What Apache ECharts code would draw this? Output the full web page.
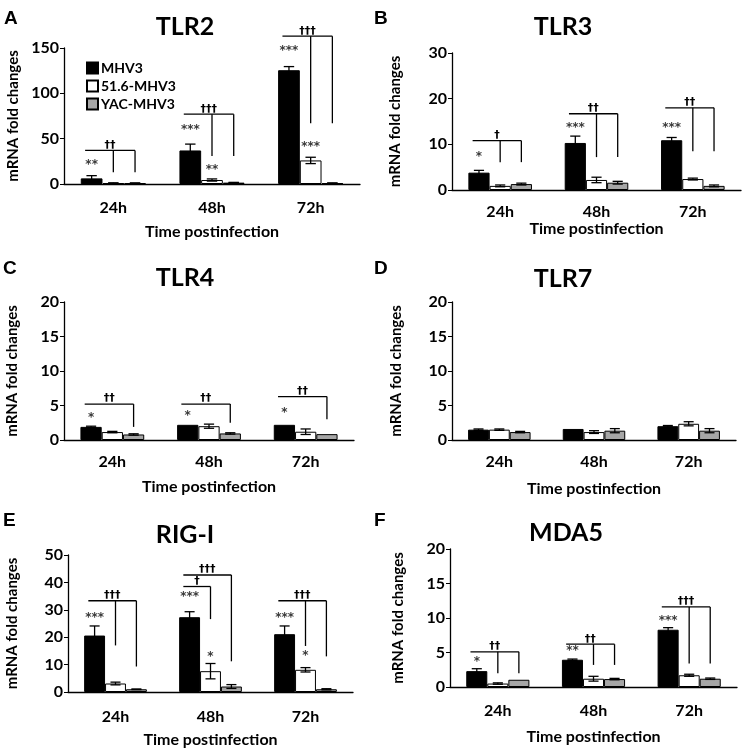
<!DOCTYPE html>
<html><head><meta charset="utf-8">
<script src="https://cdn.jsdelivr.net/npm/echarts@6/dist/echarts.min.js"></script>
<style>html,body{margin:0;padding:0;background:#fff}#c{width:742px;height:755px}</style>
</head><body><div id="c"></div>
<script>
// ---------- data ----------
const categories = ['24h', '48h', '72h'];
const seriesNames = ['MHV3', '51.6-MHV3', 'YAC-MHV3'];
const panelTitles = ['TLR2', 'TLR3', 'TLR4', 'TLR7', 'RIG-I', 'MDA5'];
const panelLetters = ['A', 'B', 'C', 'D', 'E', 'F'];
const yMax = [150, 30, 20, 20, 50, 20];
const yInterval = [50, 10, 5, 5, 10, 5];
const yAxisTitle = 'mRNA fold changes';
const xAxisTitle = 'Time postinfection';

// mean values: [series][category]
const tlr2Mean = [[6.2, 37, 125.5], [1, 4.4, 26], [1, 1.5, 1]];
const tlr2Err  = [[3, 7, 4], [0.3, 1.2, 3.5], [0.2, 0.3, 0.2]];
const tlr3Mean = [[3.8, 10.3, 10.9], [0.9, 2.2, 2.4], [1.3, 1.6, 0.9]];
const tlr3Err  = [[0.5, 1.5, 0.6], [0.2, 0.6, 0.2], [0.2, 0.3, 0.2]];
const tlr4Mean = [[1.9, 2.2, 2.2], [1.15, 2.0, 1.2], [0.8, 0.95, 0.85]];
const tlr4Err  = [[0.1, 0, 0], [0.1, 0.3, 0.4], [0.1, 0.1, 0]];
const tlr7Mean = [[1.5, 1.6, 2.0], [1.5, 1.15, 2.35], [1.15, 1.35, 1.35]];
const tlr7Err  = [[0.1, 0, 0.1], [0.1, 0.2, 0.3], [0.1, 0.3, 0.3]];
const rigMean  = [[20.6, 27.3, 21.1], [3.1, 7.6, 8.1], [1.0, 2.0, 1.0]];
const rigErr   = [[3.5, 2, 3], [0.5, 2.8, 0.8], [0.1, 0.7, 0.2]];
const mda5Mean = [[2.3, 3.95, 8.3], [0.5, 1.2, 1.7], [1.05, 1.15, 1.2]];
const mda5Err  = [[0.35, 0.1, 0.3], [0.1, 0.35, 0.15], [0, 0.1, 0.1]];

// significance stars: [category, series, value, text]
const tlr2Stars = [[0, 0, 24, '**'], [1, 0, 63, '***'], [1, 1, 19, '**'], [2, 0, 150, '***'], [2, 1, 44, '***']];
const tlr3Stars = [[0, 0, 8, '*'], [1, 0, 14.2, '***'], [2, 0, 14.2, '***']];
const tlr4Stars = [[0, 0, 3.6, '*'], [1, 0, 4, '*'], [2, 0, 4.3, '*']];
const tlr7Stars = [];
const rigStars  = [[0, 0, 28.2, '***'], [1, 0, 35.8, '***'], [1, 1, 14, '*'], [2, 0, 28.2, '***'], [2, 1, 14.3, '*']];
const mda5Stars = [[0, 0, 4.1, '*'], [1, 0, 5.6, '**'], [2, 0, 10, '***']];

// brackets: [category, top value, [[series, bottom value], ...], text]
const tlr2Brackets = [[0, 37, [[1, 13], [2, 13]], '††'], [1, 77, [[1, 31], [2, 31]], '†††'], [2, 163, [[1, 67], [2, 67]], '†††']];
const tlr3Brackets = [[0, 10.8, [[1, 6.1], [2, 6.1]], '†'], [1, 16.7, [[1, 7.2], [2, 7.2]], '††'], [2, 18, [[1, 8.5], [2, 8.5]], '††']];
const tlr4Brackets = [[0, 5.2, [[2, 1.9]], '††'], [1, 5.2, [[2, 2.5]], '††'], [2, 6.3, [[2, 3]], '††']];
const tlr7Brackets = [];
const rigBrackets  = [[0, 33.3, [[1, 17], [2, 9.3]], '†††'], [1, 42.7, [[2, 11.2]], '†††'], [1, 38.5, [[1, 26.6]], '†'], [2, 33.3, [[1, 16.8], [2, 13]], '†††']];
const mda5Brackets = [[0, 5.1, [[1, 2], [2, 2]], '††'], [1, 6.2, [[1, 3.2], [2, 3.2]], '††'], [2, 11.6, [[1, 3.4], [2, 3.4]], '†††']];

const panelMeans = [tlr2Mean, tlr3Mean, tlr4Mean, tlr7Mean, rigMean, mda5Mean];
const panelErrs = [tlr2Err, tlr3Err, tlr4Err, tlr7Err, rigErr, mda5Err];
const panelStars = [tlr2Stars, tlr3Stars, tlr4Stars, tlr7Stars, rigStars, mda5Stars];
const panelBrackets = [tlr2Brackets, tlr3Brackets, tlr4Brackets, tlr7Brackets, rigBrackets, mda5Brackets];

// ---------- layout / style ----------
const FONT = 'Lato, "Open Sans", "Liberation Sans", sans-serif';
const MARK_FONT = '"DejaVu Sans", sans-serif';
const BAR_FRAC = 0.22;
const barColors = ['#000000', '#ffffff', '#a6a6a6'];
const grids = [
  {left: 64, top: 48, width: 296, height: 136},
  {left: 452, top: 53, width: 289, height: 137},
  {left: 64, top: 302, width: 290, height: 138},
  {left: 452, top: 302, width: 284, height: 138},
  {left: 68, top: 555, width: 285, height: 137},
  {left: 450, top: 549, width: 287, height: 138}
];
const yNameGap = [43, 49, 44, 48, 48, 44];
const xNameGap = [40, 26, 39, 41, 40, 42];
const labelMargin = [16, 14, 14, 14, 17, 16];
const titlePos = [[185, 27], [563, 27], [185, 278], [563, 279], [185, 535], [566, 533]];
const letterPos = [[4, 19], [374, 19], [3, 269], [374, 269], [3, 521], [374, 521]];

function errRender(params, api) {
  const cat = api.value(0), v = api.value(1), e = api.value(2), s = api.value(3);
  if (!e) return null;
  const bw = api.size([1, 0])[0] * BAR_FRAC;
  const x = api.coord([cat, v])[0] + (s - 1) * bw;
  const yh = api.coord([cat, v + e])[1];
  const yl = api.coord([cat, Math.max(0, v - e)])[1];
  const cap = bw * 0.24;
  const st = {stroke: '#000', lineWidth: 1.3};
  return {type: 'group', children: [
    {type: 'line', shape: {x1: x, y1: yh, x2: x, y2: yl}, style: st},
    {type: 'line', shape: {x1: x - cap, y1: yh, x2: x + cap, y2: yh}, style: st},
    {type: 'line', shape: {x1: x - cap, y1: yl, x2: x + cap, y2: yl}, style: st}
  ]};
}
function bracketRender(list) {
  return function (params, api) {
    const b = list[params.dataIndex];
    const cat = b[0];
    const bw = api.size([1, 0])[0] * BAR_FRAC;
    const c = api.coord([cat, b[1]]);
    const yTop = c[1];
    const xStart = c[0] - bw * 1.3;
    let xEnd = xStart;
    const st = {stroke: '#000', lineWidth: 1.3};
    const children = [];
    b[2].forEach(function (d) {
      const x = c[0] + (d[0] - 1) * bw;
      const yb = api.coord([cat, d[1]])[1];
      children.push({type: 'line', shape: {x1: x, y1: yTop, x2: x, y2: yb}, style: st});
      if (x > xEnd) xEnd = x;
    });
    children.push({type: 'line', shape: {x1: xStart, y1: yTop, x2: xEnd, y2: yTop}, style: st});
    children.push({type: 'text', style: {text: b[3], x: (xStart + xEnd) / 2, y: yTop,
      align: 'center', verticalAlign: 'bottom', fontSize: 11, fontWeight: 'bold', fontFamily: MARK_FONT, fill: '#000'}});
    return {type: 'group', children: children};
  };
}
function starRender(list) {
  return function (params, api) {
    const s = list[params.dataIndex];
    const bw = api.size([1, 0])[0] * BAR_FRAC;
    const c = api.coord([s[0], s[2]]);
    return {type: 'text', style: {text: s[3], x: c[0] + (s[1] - 1) * bw, y: c[1] + 3,
      align: 'center', verticalAlign: 'middle', fontSize: 12, fontWeight: 'bold', fontFamily: MARK_FONT, fill: '#3a3a3a'}};
  };
}

const option = {
  animation: false,
  backgroundColor: '#fff',
  textStyle: {fontFamily: FONT},
  grid: grids.map(g => Object.assign({containLabel: false}, g)),
  xAxis: grids.map((g, i) => ({
    type: 'category', gridIndex: i, data: categories,
    axisLine: {lineStyle: {color: '#000', width: 1.3}},
    axisTick: {show: false},
    axisLabel: {color: '#000', fontSize: 16, fontWeight: 'bold', fontFamily: FONT, margin: labelMargin[i]},
    name: xAxisTitle, nameLocation: 'middle', nameGap: xNameGap[i],
    nameTextStyle: {color: '#000', fontSize: 16, fontWeight: 'bold', fontFamily: FONT}
  })),
  yAxis: grids.map((g, i) => ({
    type: 'value', gridIndex: i, min: 0, max: yMax[i], interval: yInterval[i],
    axisLine: {show: true, lineStyle: {color: '#000', width: 1.3}},
    axisTick: {show: true, length: 4, lineStyle: {color: '#000'}},
    splitLine: {show: false},
    axisLabel: {color: '#000', fontSize: 16, fontWeight: 'bold', fontFamily: FONT, margin: 5},
    name: yAxisTitle, nameLocation: 'middle', nameGap: yNameGap[i],
    nameTextStyle: {color: '#000', fontSize: 15, fontWeight: 'bold', fontFamily: FONT}
  })),
  legend: {
    data: seriesNames, orient: 'vertical', left: 81, top: 56, itemGap: 4,
    itemWidth: 11, itemHeight: 11, icon: 'rect',
    textStyle: {color: '#000', fontSize: 14, fontWeight: 'bold', fontFamily: FONT, padding: [0, 0, 0, -2]}
  },
  graphic: [],
  series: []
};

panelTitles.forEach(function (t, i) {
  option.graphic.push({type: 'text', x: titlePos[i][0], y: titlePos[i][1],
    style: {text: t, align: 'center', verticalAlign: 'middle', fontSize: 25, fontWeight: 'bold', fontFamily: FONT, fill: '#000'}});
  option.graphic.push({type: 'text', x: letterPos[i][0], y: letterPos[i][1],
    style: {text: panelLetters[i], align: 'left', verticalAlign: 'middle', fontSize: 19, fontWeight: 'bold', fontFamily: '"Liberation Sans", Arial, sans-serif', fill: '#000'}});
});

for (let p = 0; p < 6; p++) {
  const means = panelMeans[p], errs = panelErrs[p];
  const errData = [];
  seriesNames.forEach(function (name, s) {
    option.series.push({
      type: 'bar', name: name, xAxisIndex: p, yAxisIndex: p,
      data: means[s], barWidth: (BAR_FRAC * 100) + '%', barGap: '0%',
      itemStyle: {color: barColors[s], borderColor: '#000', borderWidth: 1},
      z: 2
    });
    means[s].forEach(function (v, c) { errData.push([c, v, errs[s][c], s]); });
  });
  option.series.push({type: 'custom', xAxisIndex: p, yAxisIndex: p, renderItem: errRender,
    data: errData, encode: {x: 0, y: 1}, z: 4, clip: false, silent: true});
  const br = panelBrackets[p];
  if (br.length) option.series.push({type: 'custom', xAxisIndex: p, yAxisIndex: p, renderItem: bracketRender(br),
    data: br.map(b => [b[0], b[1]]), encode: {x: 0, y: 1}, z: 5, clip: false, silent: true});
  const stars = panelStars[p];
  if (stars.length) option.series.push({type: 'custom', xAxisIndex: p, yAxisIndex: p, renderItem: starRender(stars),
    data: stars.map(s => [s[0], s[2]]), encode: {x: 0, y: 1}, z: 5, clip: false, silent: true});
}

const chart = echarts.init(document.getElementById('c'), null, {renderer: 'canvas'});
chart.setOption(option);
</script>
</body></html>
